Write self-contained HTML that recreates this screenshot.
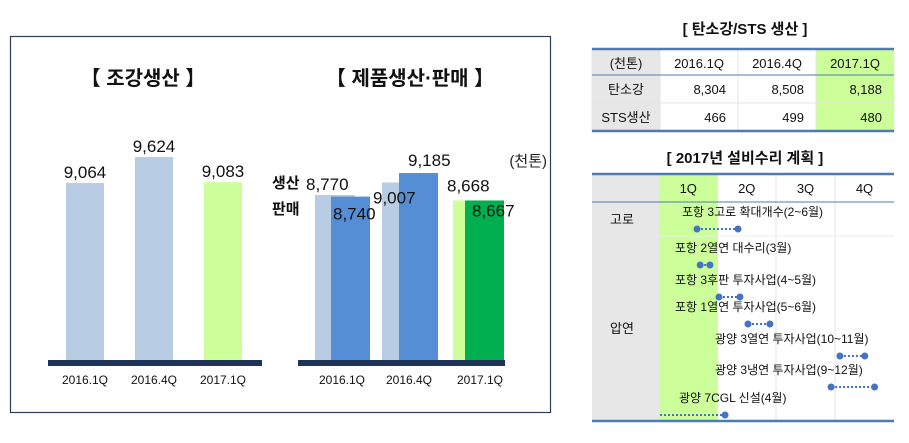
<!DOCTYPE html>
<html><head><meta charset="utf-8"><style>
body{margin:0;background:#fff;font-family:"Liberation Sans","Noto Sans CJK KR",sans-serif}
svg{display:block}
text{font-family:"Liberation Sans","Noto Sans CJK KR",sans-serif}
</style></head><body>
<svg id="s" width="909" height="443" viewBox="0 0 909 443">
<rect x="10.5" y="36.5" width="540" height="376" fill="none" stroke="#2c3e5a" stroke-width="1.2"/>
<text x="143" y="85" text-anchor="middle" font-size="20" font-weight="bold" fill="#111">【 조강생산 】</text>
<text x="410" y="85" text-anchor="middle" font-size="20" font-weight="bold" fill="#111">【 제품생산·판매 】</text>
<text x="547" y="166" text-anchor="end" font-size="15" fill="#222">(천톤)</text>
<text x="272" y="188" font-size="15" font-weight="bold" fill="#111">생산</text>
<text x="272" y="214" font-size="15" font-weight="bold" fill="#111">판매</text>
<g id="c1"></g>
<g id="c2"></g>
<g id="t1"></g>
<g id="t2"></g>
</svg>
<script>
const categories=["2016.1Q","2016.4Q","2017.1Q"];
const crudeSteel=[9064,9624,9083];
const production=[8770,9007,8668];
const sales=[8740,9185,8667];
const tableCols=["(천톤)","2016.1Q","2016.4Q","2017.1Q"];
const carbonSteel=["탄소강","8,304","8,508","8,188"];
const stsProd=["STS생산","466","499","480"];
const quarters=["1Q","2Q","3Q","4Q"];
const planNames=["포항 3고로 확대개수(2~6월)","포항 2열연 대수리(3월)","포항 3후판 투자사업(4~5월)","포항 1열연 투자사업(5~6월)","광양 3열연 투자사업(10~11월)","광양 3냉연 투자사업(9~12월)","광양 7CGL 신설(4월)"];
const planStart=[1.94,2.1,3.06,4.54,9.23,8.78,0.05];
const planEnd=[4.03,2.6,4.13,5.66,10.5,11.0,3.37];

const NS="http://www.w3.org/2000/svg";
function mk(p,tag,a,txt){const e=document.createElementNS(NS,tag);for(const k in a)e.setAttribute(k,a[k]);if(txt!=null)e.textContent=txt;p.appendChild(e);return e;}
const base=360;
const y=v=>base-(v-5250)*0.0464;
const y2=v=>base-(v-5657)*0.053;
const fmt=v=>v.toLocaleString("en-US");

// chart 1
const c1=document.getElementById('c1');
const c1x=[66,135,204];
crudeSteel.forEach((v,i)=>{
 const r=mk(c1,'rect',{x:c1x[i],y:y(v),width:38,height:base-y(v),fill:i==2?'#ccff99':'#b8cce4'});
 
 const t=mk(c1,'text',{x:c1x[i]+19,y:y(v)-5,'text-anchor':'middle','font-size':17,fill:'#111'},fmt(v));
 
 const l=mk(c1,'text',{x:c1x[i]+19,y:384,'text-anchor':'middle','font-size':12,fill:'#111'},categories[i]);
 
});
const a1=mk(c1,'rect',{x:48,y:360,width:214,height:6,fill:'#1f3356'});


// chart 2
const c2=document.getElementById('c2');
const px=[315,382,453];
const sx=[331,399,465];
const plx=[306,373,447], plOff=[-5,21,-9];
const slx=[333,408,472], slOff=[23,-7,16];
categories.forEach((c,i)=>{
 const p=mk(c2,'rect',{x:px[i],y:y2(production[i]),width:40,height:base-y2(production[i]),fill:i==2?'#ccff99':'#b8cce4'});
 
 const s=mk(c2,'rect',{x:sx[i],y:y2(sales[i]),width:39,height:base-y2(sales[i]),fill:i==2?'#00b050':'#558ed5'});
 
 const tp=mk(c2,'text',{x:plx[i],y:y2(production[i])+plOff[i],'font-size':17,fill:'#111'},fmt(production[i]));
 
 const ts=mk(c2,'text',{x:slx[i],y:y2(sales[i])+slOff[i],'font-size':17,fill:'#111'},fmt(sales[i]));
 
 const l=mk(c2,'text',{x:px[i]+27,y:384,'text-anchor':'middle','font-size':12,fill:'#111'},c);
 
});
const a2=mk(c2,'rect',{x:298,y:360,width:207,height:6,fill:'#1f3356'});


// table 1
const t1=document.getElementById('t1');
const tt=mk(t1,'text',{x:745,y:34,'text-anchor':'middle','font-size':15,'font-weight':'bold',fill:'#111'},'[ 탄소강/STS 생산 ]');

const cx=[592,660,738,816,894],ry=[49,75,103,131];
[tableCols,carbonSteel,stsProd].forEach((row,r)=>{
 row.forEach((v,c)=>{
  const bg=c==0?'#e7e7e7':c==3?'#ccff99':'#fff';
  const cell=mk(t1,'rect',{x:cx[c],y:ry[r],width:cx[c+1]-cx[c],height:ry[r+1]-ry[r],fill:bg,stroke:'#e4e4e4','stroke-width':1});
  
  const tx=mk(t1,'text',{x:(c==0||r==0)?(cx[c]+cx[c+1])/2:cx[c+1]-12,y:ry[r]+19,'text-anchor':(c==0||r==0)?'middle':'end','font-size':13,fill:'#111'},v);
  
 });
});
mk(t1,'line',{x1:592,x2:894,y1:49,y2:49,stroke:'#4f7bb5','stroke-width':2.5});
mk(t1,'line',{x1:592,x2:894,y1:75,y2:75,stroke:'#4f7bb5','stroke-width':1});
mk(t1,'line',{x1:592,x2:894,y1:131,y2:131,stroke:'#4f7bb5','stroke-width':2.5});

// table 2
const t2=document.getElementById('t2');
const t2t=mk(t2,'text',{x:745,y:163,'text-anchor':'middle','font-size':15,'font-weight':'bold',fill:'#111'},'[ 2017년 설비수리 계획 ]');

const qx=[659,717.5,776,835,894];
mk(t2,'rect',{x:592,y:174,width:67,height:247,fill:'#e7e7e7'});
mk(t2,'rect',{x:659,y:174,width:58.5,height:247,fill:'#ccff99'});
for(let i=1;i<4;i++)mk(t2,'line',{x1:qx[i],x2:qx[i],y1:174,y2:421,stroke:'#e4e4e4'});
mk(t2,'line',{x1:659,x2:894,y1:236,y2:236,stroke:'#eeeeee'});
quarters.forEach((q,i)=>{
 const e=mk(t2,'text',{x:(qx[i]+qx[i+1])/2,y:193,'text-anchor':'middle','font-size':13,fill:'#111'},q);
 
});
mk(t2,'line',{x1:592,x2:894,y1:174,y2:174,stroke:'#4f7bb5','stroke-width':2.5});
mk(t2,'line',{x1:592,x2:894,y1:202,y2:202,stroke:'#4f7bb5','stroke-width':1});
mk(t2,'line',{x1:592,x2:894,y1:421,y2:421,stroke:'#4f7bb5','stroke-width':2.5});
const g1=mk(t2,'text',{x:622,y:224,'text-anchor':'middle','font-size':13,fill:'#111'},'고로');

const g2=mk(t2,'text',{x:622,y:333,'text-anchor':'middle','font-size':13,fill:'#111'},'압연');

const mx=m=>659+m*19.6;
const ty=[216,252,284,311,343,374,402],tx0=[682,675,675,675,715,715,679];
planNames.forEach((n,i)=>{
 const t=mk(t2,'text',{x:tx0[i],y:ty[i],'font-size':12,fill:'#111'},n);
 
 const dy=ty[i]+13;
 const l=mk(t2,'line',{x1:mx(planStart[i]),x2:mx(planEnd[i]),y1:dy,y2:dy,stroke:'#4472c4','stroke-width':2,'stroke-dasharray':'2,2'});
 
 if(i!=6){const d=mk(t2,'circle',{cx:mx(planStart[i]),cy:dy,r:3.5,fill:'#4472c4'});
 }
 const d2=mk(t2,'circle',{cx:mx(planEnd[i]),cy:dy,r:3.5,fill:'#4472c4'});
 
});
</script>
</body></html>
